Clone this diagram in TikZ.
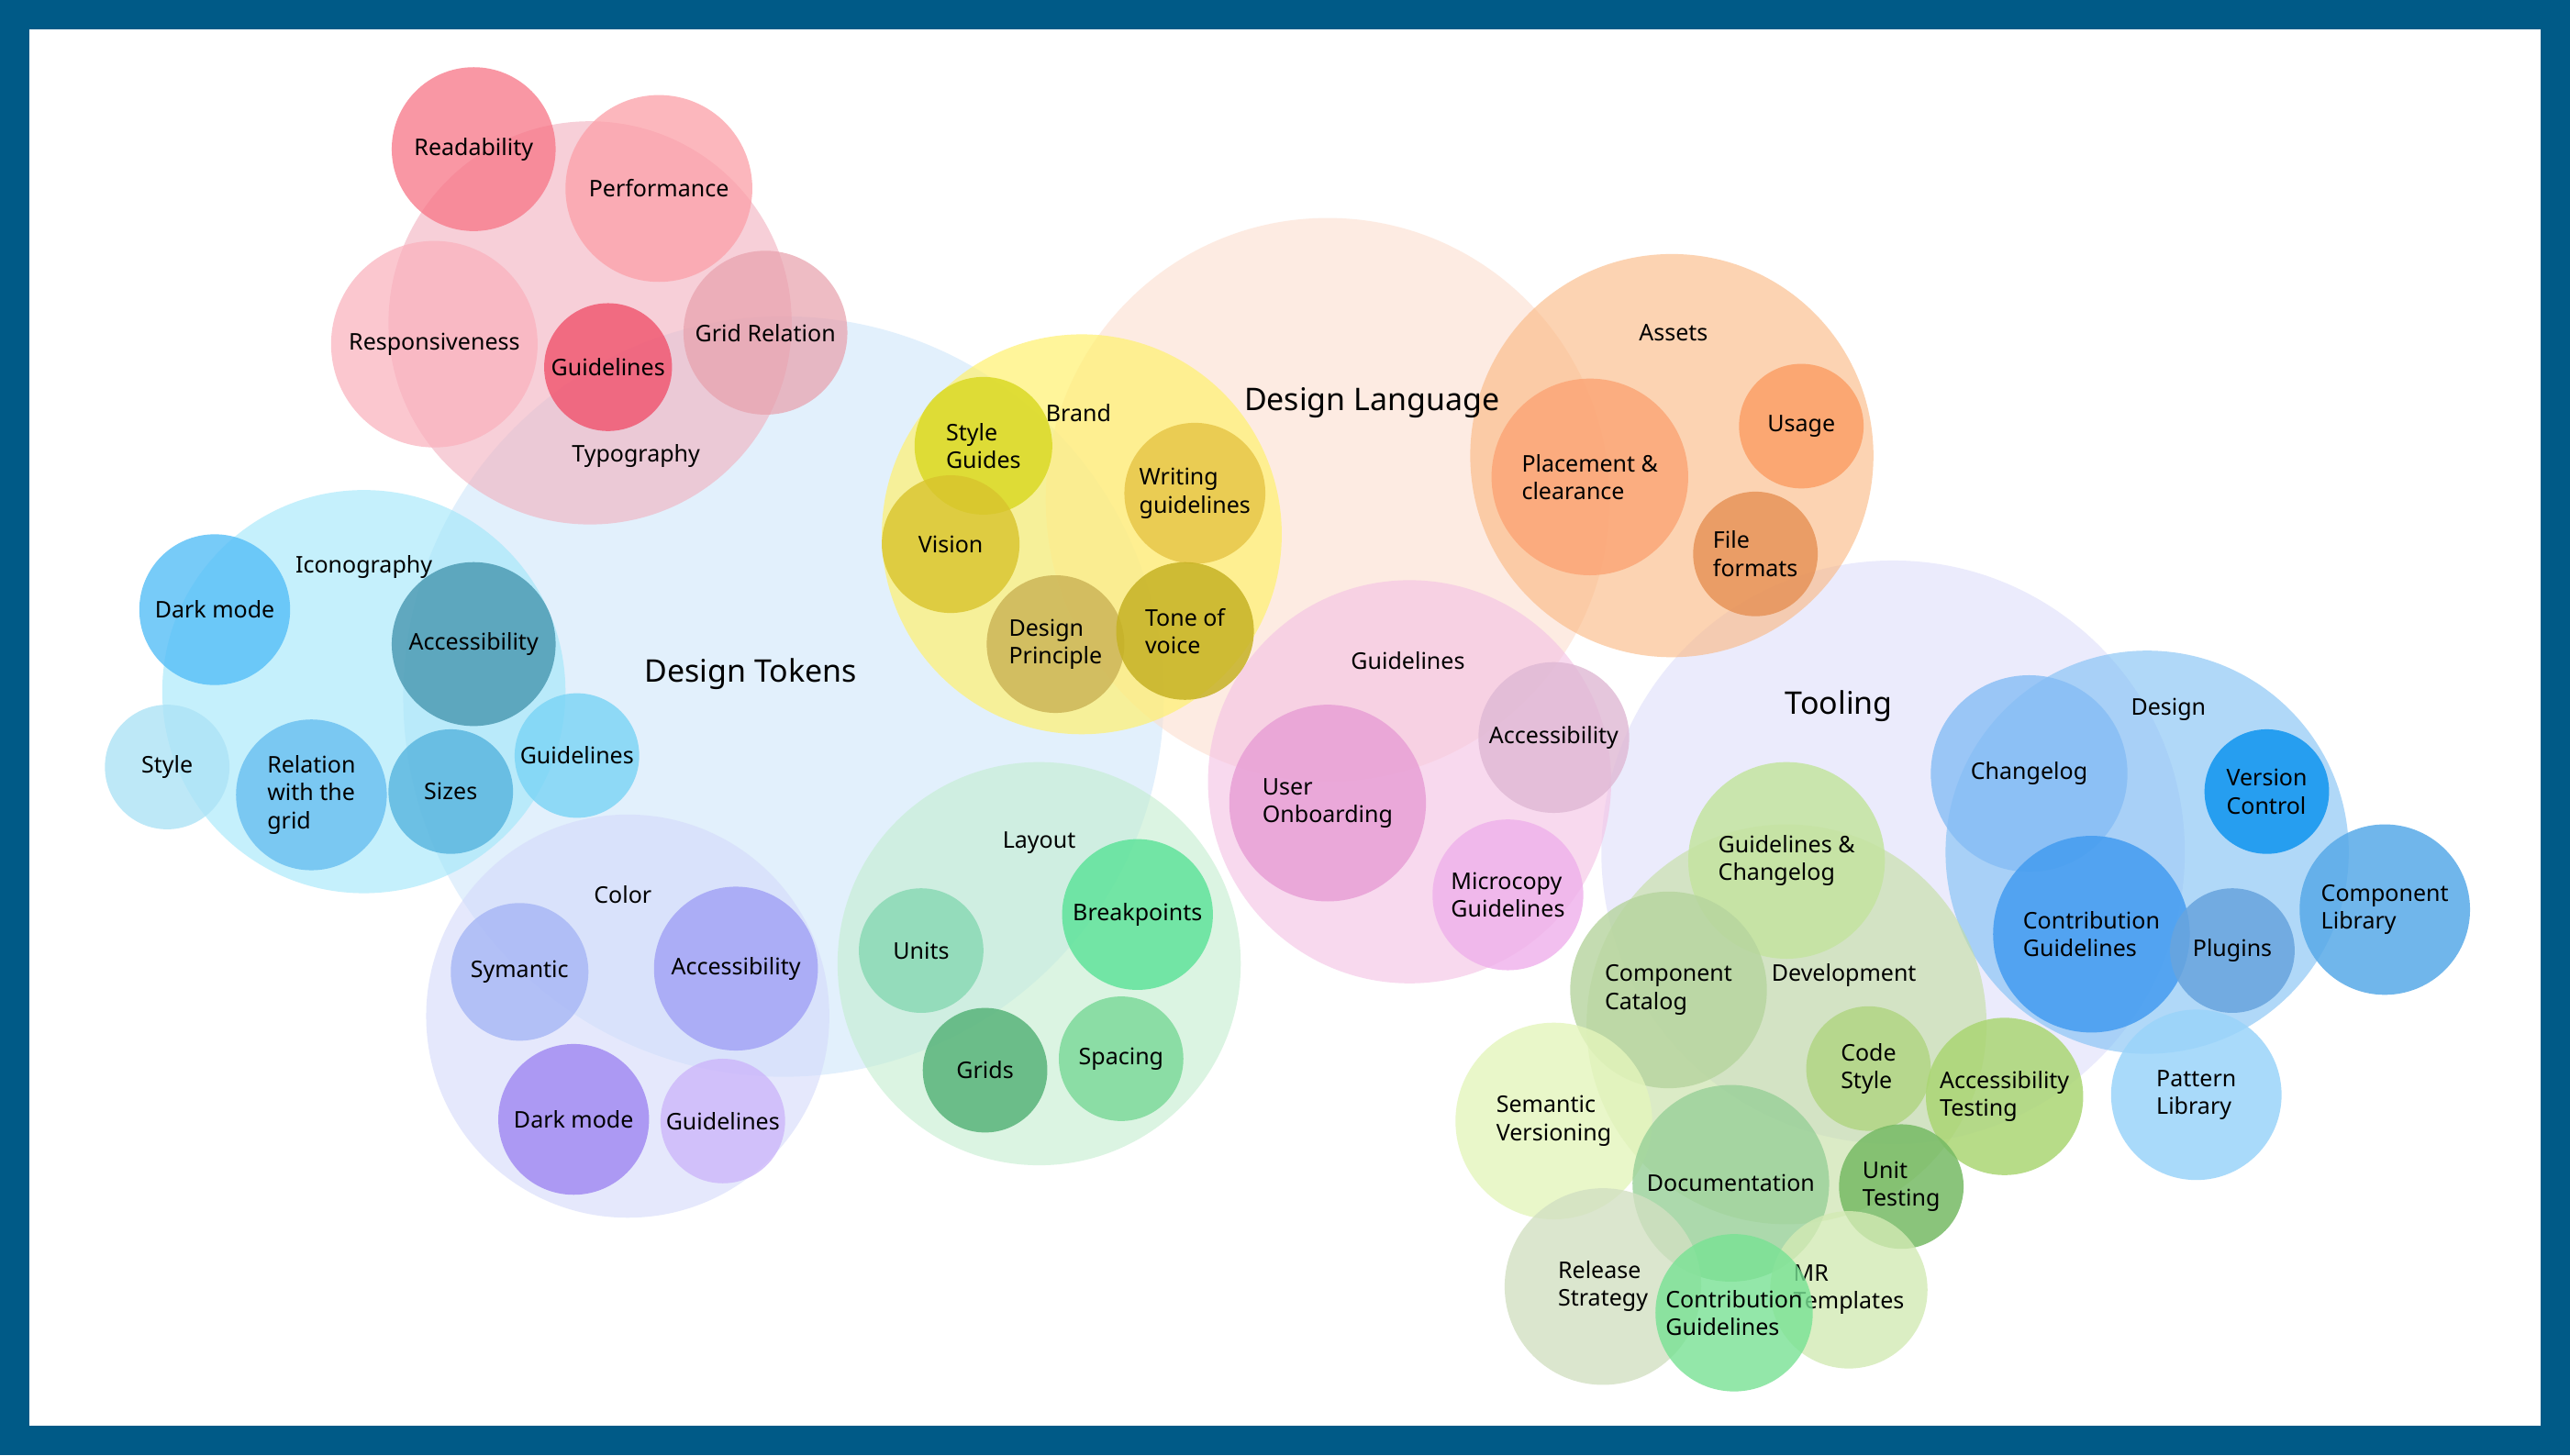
\documentclass[tikz,border=0pt]{standalone}
\usepackage{fontspec}
\setmainfont{Noto Sans}
\begin{document}
\begin{tikzpicture}[x=1pt,y=-1pt]
\tikzset{bubble/.style={circle,inner sep=0pt,text opacity=1,align=left,font=\fontsize{14}{17}\selectfont},
 head/.style={font=\bfseries\fontsize{14}{17}\selectfont},
 bighead/.style={font=\bfseries\fontsize{19}{22}\selectfont}}
\newcommand\bub[7]{\definecolor{c#1}{HTML}{#5}\node[bubble,fill=c#1,fill opacity=#6,minimum size={2*#4pt}] (#1) at (#2,#3) {#7};}
\definecolor{frame}{HTML}{005A87}
\fill[frame] (0,0) rectangle (1568,888);
\fill[white] (18,18) rectangle (1550,870);
\useasboundingbox (0,0) rectangle (1568,888);
% big
\bub{dt}{478}{425}{232}{CFE6FB}{0.6}{}
\bub{dl}{810}{305}{172}{FDDCCB}{0.55}{}
\bub{tl}{1155}{520}{178}{DCDCFA}{0.55}{}
% medium
\bub{typo}{360}{197}{123}{F2AFBE}{0.6}{}
\bub{icon}{222}{422}{123}{9FE6FA}{0.6}{}
\bub{col}{383}{620}{123}{D4DAFB}{0.6}{}
\bub{lay}{634}{588}{123}{C3EECF}{0.6}{}
\bub{brand}{660}{326}{122}{FFF170}{0.7}{}
\bub{assets}{1020}{278}{123}{FBB67F}{0.6}{}
\bub{gdl}{860}{477}{123}{F4C0E4}{0.6}{}
\bub{des}{1310}{520}{123}{7CBFF4}{0.6}{}
\bub{dev}{1090}{625}{122}{C3DEA0}{0.6}{}
% small
\bub{t1}{289}{91}{50}{F77586}{0.75}{Readability}
\bub{t2}{402}{115}{57}{FCA0A8}{0.75}{Performance}
\bub{t3}{265}{210}{63}{FAB0BC}{0.7}{Responsiveness}
\bub{t4}{371}{224}{39}{F0526C}{0.8}{Guidelines}
\bub{t5}{467}{203}{50}{E8A0AC}{0.7}{Grid Relation}
\bub{i1}{131}{372}{46}{55BEF7}{0.8}{Dark mode}
\bub{i2}{289}{393}{50}{4797B0}{0.8}{Accessibility}
\bub{i3}{102}{468}{38}{ADE3F6}{0.8}{Style}
\bub{i4}{190}{485}{46}{68BEF0}{0.8}{Relation\\with the\\grid}
\bub{i5}{275}{483}{38}{56B4DE}{0.8}{Sizes}
\bub{i6}{352}{461}{38}{7AD4F5}{0.8}{Guidelines}
\bub{c1}{317}{593}{42}{A6B6F5}{0.8}{Symantic}
\bub{c2}{449}{591}{50}{A0A0F5}{0.8}{Accessibility}
\bub{c3}{350}{683}{46}{A38CF2}{0.85}{Dark mode}
\bub{c4}{441}{684}{38}{CCB6FA}{0.8}{Guidelines}
\bub{l1}{562}{580}{38}{86D8B2}{0.8}{Units}
\bub{l2}{694}{558}{46}{58E296}{0.8}{Breakpoints}
\bub{l3}{601}{653}{38}{58B47A}{0.85}{Grids}
\bub{l4}{684}{646}{38}{78D896}{0.8}{Spacing}
\bub{b1}{600}{272}{42}{D8D81E}{0.8}{Style\\Guides}
\bub{b2}{729}{301}{43}{E6C444}{0.8}{Writing\\guidelines}
\bub{b3}{580}{332}{42}{D8C42C}{0.8}{Vision}
\bub{b4}{644}{393}{42}{CAB254}{0.8}{Design\\Principle}
\bub{b5}{723}{385}{42}{C6B224}{0.85}{Tone of\\voice}
\bub{a1}{970}{291}{60}{FBA474}{0.8}{Placement \&\\clearance}
\bub{a2}{1099}{260}{38}{FB9C62}{0.8}{Usage}
\bub{a3}{1071}{338}{38}{E69054}{0.8}{File\\formats}
\bub{g1}{948}{450}{46}{DFB8D4}{0.8}{Accessibility}
\bub{g2}{810}{490}{60}{E8A0D6}{0.85}{User\\Onboarding}
\bub{g3}{920}{546}{46}{EFB0EB}{0.8}{Microcopy\\Guidelines}
\bub{d1}{1238}{472}{60}{86BDF5}{0.8}{Changelog}
\bub{d2}{1383}{483}{38}{1898F0}{0.9}{Version\\Control}
\bub{d3}{1276}{570}{60}{449CF0}{0.85}{Contribution\\Guidelines}
\bub{d4}{1362}{580}{38}{68A4DE}{0.85}{Plugins}
\bub{d5}{1455}{555}{52}{58AAE8}{0.85}{Component\\Library}
\bub{d6}{1340}{668}{52}{9AD4FA}{0.85}{Pattern\\Library}
\bub{v1}{1090}{525}{60}{C4E4A0}{0.85}{Guidelines \&\\Changelog}
\bub{v2}{1018}{604}{60}{B6D49E}{0.8}{Component\\Catalog}
\bub{v3}{1140}{652}{38}{B2D684}{0.85}{Code\\Style}
\bub{v4}{1223}{669}{48}{ABD674}{0.85}{Accessibility\\Testing}
\bub{v5}{948}{684}{60}{E4F5BC}{0.8}{Semantic\\Versioning}
\bub{v6}{1056}{722}{60}{98D098}{0.8}{Documentation}
\bub{v7}{1160}{724}{38}{76BA64}{0.85}{Unit\\Testing}
\bub{v8}{978}{785}{60}{D2E0C2}{0.8}{Release\\Strategy}
\bub{v9}{1128}{787}{48}{D3EAB4}{0.8}{MR\\Templates}
\bub{v10}{1058}{801}{48}{78E294}{0.8}{Contribution\\Guidelines}
% headings
\node[bighead] (hdt) at (458,411) {Design Tokens};
\node[bighead] (hdl) at (837,246) {Design Language};
\node[bighead] (htl) at (1122,431) {Tooling};
\node[head] (htypo) at (388,278) {Typography};
\node[head] (hicon) at (222,346) {Iconography};
\node[head] (hcol) at (380,546) {Color};
\node[head] (hlay) at (634,514) {Layout};
\node[head] (hbrand) at (658,252) {Brand};
\node[head] (hassets) at (1021,203) {Assets};
\node[head] (hgdl) at (859,403) {Guidelines};
\node[head] (hdes) at (1323,433) {Design};
\node[head] (hdev) at (1125,595) {Development};
\end{tikzpicture}
\end{document}
